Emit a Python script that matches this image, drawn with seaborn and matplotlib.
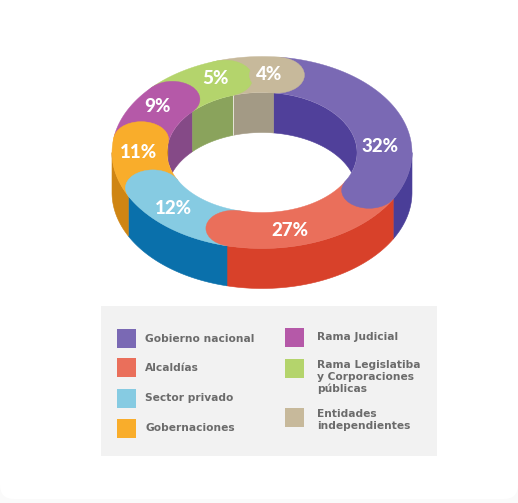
import numpy as np
import matplotlib
matplotlib.use("Agg")
import matplotlib.pyplot as plt
from matplotlib.patches import Ellipse, Polygon, Rectangle, FancyBboxPatch
import seaborn as sns

# values shown on the chart
categories = ["Gobierno nacional", "Alcaldías", "Sector privado", "Gobernaciones",
              "Rama Judicial", "Rama Legislatiba\ny Corporaciones\npúblicas", "Entidades\nindependientes"]
percents = [32, 27, 12, 11, 9, 5, 4]
# the drawing is not to scale, so the sweep of each arc (degrees) is read off the picture
arc_sweeps = [112, 74.5, 49.5, 36.5, 33.5, 29.5, 24.5]

top_colors = ["#7a69b4", "#ea6f5b", "#86cbe2", "#f9ad2b", "#b559a8", "#b4d46c", "#c7b99b"]
outer_colors = ["#4a3e98", "#d8412a", "#0a70ab", "#cf8513", "#853f85", "#8aa35c", "#a39a85"]
inner_colors = ["#50409a", "#d8412a", "#0a70ab", "#cf8513", "#854a87", "#8aa35c", "#a39a85"]

# layout, in pixels of the 518x503 picture
CX, CY = 262, 152.5
A_OUT, B_OUT = 150, 96
A_IN, B_IN = 95, 60
DEPTH = 40
START = 83
LABEL_XY = [(380, 147), (290, 231), (173, 208), (138, 152), (157, 106), (215, 78), (269, 74)]
SWATCH_X = [126.5, 294.5]
TEXT_X = [145, 317]
SWATCH_Y = [[338.5, 367.5, 398, 428], [337, 368, 417]]
TEXT_Y = [[339, 368, 398, 428], [337, 377, 420]]


def ring_xy(theta, scale_a, scale_b, dy=0):
    t = np.radians(theta)
    return CX + scale_a * np.cos(t), CY - scale_b * np.sin(t) + dy


def wall(ax, t0, t1, a, b, color, zorder, clip=None):
    ts = np.linspace(t0, t1, 60)
    x, y = ring_xy(ts, a, b)
    pts = np.r_[np.c_[x, y], np.c_[x, y + DEPTH][::-1]]
    poly = Polygon(pts, closed=True, fc=color, ec=color, lw=0.4, zorder=zorder)
    ax.add_patch(poly)
    if clip is not None:
        poly.set_clip_path(clip)


def face(ax, t0, t1, color, zorder):
    ts = np.linspace(t0, t1, 80)
    xo, yo = ring_xy(ts, A_OUT, B_OUT)
    xi, yi = ring_xy(ts, A_IN, B_IN)
    ax.add_patch(Polygon(np.r_[np.c_[xo, yo], np.c_[xi, yi][::-1]], closed=True,
                         fc=color, ec=color, lw=0.3, zorder=zorder))


def cap(ax, theta, color, zorder):
    # round end of an arc, a disc on the ring plane seen in perspective
    mid_a = (A_OUT + A_IN) / 2
    mid_b = (B_OUT + B_IN) / 2
    x, y = ring_xy(theta, mid_a, mid_b)
    ax.add_patch(Ellipse((x, y), A_OUT - A_IN, B_OUT - B_IN, fc=color, ec=color, lw=0.3, zorder=zorder))


sns.set_theme(style="white")
plt.rcParams["font.family"] = ["DejaVu Sans"]

fig = plt.figure(figsize=(5.18, 5.03), dpi=100, facecolor="#fafafa")
ax = fig.add_axes([0, 0, 1, 1])
ax.set_xlim(0, 518)
ax.set_ylim(503, 0)
ax.axis("off")

# white card with rounded corners
ax.add_patch(FancyBboxPatch((0, -20), 518, 519, boxstyle="round,pad=0,rounding_size=14",
                            fc="white", ec="none", zorder=0))

# hole, used to clip the far inner wall
hole = Ellipse((CX, CY), 2 * A_IN, 2 * B_IN, fc="white", ec="none", zorder=1)
ax.add_patch(hole)

ends = START - np.cumsum(arc_sweeps)
starts = np.r_[START, ends[:-1]]

for s, e, oc, ic, tc in zip(starts, ends, outer_colors, inner_colors, top_colors):
    # outer wall: only the front half shows (180..360 degrees)
    l2, h2 = max(e, -180), min(s, 0)
    if l2 < h2:
        wall(ax, l2, h2, A_OUT, B_OUT, oc, 2)
    # inner wall: only the back half shows, angles run on past -180
    for shift in (0, -360):
        l2, h2 = max(e, 0 + shift), min(s, 180 + shift)
        if l2 < h2:
            wall(ax, l2, h2, A_IN, B_IN, ic, 2, clip=hole)
    face(ax, e, s, tc, 3)

for e, tc in zip(ends, top_colors):
    cap(ax, e, tc, 4)

# thin light seam on the far inner wall, between green and tan
x, y = ring_xy(ends[5], A_IN, B_IN)
ax.plot([x, x], [y, y + DEPTH], color="#e6e6d8", lw=0.7, zorder=3)

for (x, y), p in zip(LABEL_XY, percents):
    ax.text(x, y, f"{p}%", color="white", fontsize=13.5, fontweight="black",
            family=["Lato", "DejaVu Sans"], ha="center", va="center", zorder=6)

# legend panel
ax.add_patch(Rectangle((101, 306), 336, 150, fc="#f2f2f2", ec="none", zorder=1))

legend_slots = [(0, r) for r in range(4)] + [(1, r) for r in range(3)]
for (col, row), name, color in zip(legend_slots, categories, top_colors):
    x = SWATCH_X[col]
    y = SWATCH_Y[col][row]
    ax.add_patch(Rectangle((x - 9.5, y - 9.5), 19, 19, fc=color, ec="none", zorder=2))
    ax.text(TEXT_X[col], TEXT_Y[col][row], name, color="#6b6b6b", fontsize=7.7, fontweight="bold",
            ha="left", va="center", linespacing=1.25, zorder=2)

plt.savefig("out.png", dpi=100)
